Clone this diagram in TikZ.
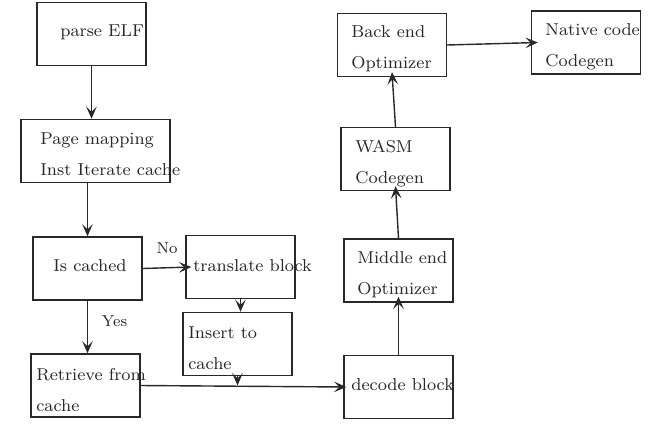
\documentclass[tikz,border=0pt]{standalone}
\usepackage{fontspec}
\setmainfont{lmroman8-regular.otf}
\usetikzlibrary{arrows.meta}
\definecolor{ink}{RGB}{40,40,40}

\begin{document}
\begin{tikzpicture}[
  x=0.02cm,y=-0.02cm,
  >={Stealth[length=7pt,width=6pt,inset=3pt]},
  box/.style={draw=ink,rectangle,minimum width=2.18cm,minimum height=1.26cm,inner sep=0pt,line width=0.8pt},
  widebox/.style={box,minimum width=2.98cm},
  txt/.style={anchor=west,align=left,inner sep=0pt,text=ink,font={\fontsize{9.8}{17.6}\selectfont}},
  flow/.style={->,draw=ink,line width=0.8pt},
  lbl/.style={inner sep=0pt,text=ink,font={\fontsize{9}{11}\selectfont}}
]
\useasboundingbox (0,0) rectangle (651,423);
% ================= left: lookup of the guest code =================
\node[box] (parse) at (91.5,34) {};
\node[widebox] (page) at (95.5,151) {};
\node[box] (cached) at (87.5,268.5) {};
\node[box] (translate) at (240.5,267) {};
\node[box] (insert) at (237.5,344) {};
\node[box] (retrieve) at (85.5,385.5) {};
\node[txt] (tparse) at (60,32) {parse ELF};
\node[txt] (tpage) at (40,154) {Page mapping\\Inst Iterate cache};
\node[txt] (tcached) at (53,266) {Is cached};
\node[txt] (ttranslate) at (193,266) {translate block};
\node[txt] (tinsert) at (188,348) {Insert to\\cache};
\node[txt] (tretrieve) at (36,390) {Retrieve from\\cache};
% ================= right: compile pipeline =================
\node[box] (decode) at (398.5,387) {};
\node[box] (middle) at (398.5,270.5) {};
\node[box] (wasm) at (395.5,159) {};
\node[box] (backend) at (392,45) {};
\node[box] (native) at (586,42.5) {};
\node[txt] (tdecode) at (351,385) {decode block};
\node[txt] (tmiddle) at (357,275) {Middle end\\Optimizer};
\node[txt] (twasm) at (355,163.5) {WASM\\Codegen};
\node[txt] (tbackend) at (351,48.5) {Back end\\Optimizer};
\node[txt] (tnative) at (545,47) {Native code\\Codegen};
\coordinate (join) at (insert.south |- retrieve.east);
% ================= connectors =================
\draw[flow] (parse.south) -- (parse.south |- page.north);
\draw[flow] (cached.north |- page.south) -- (cached.north);
\draw[flow] (cached.east) -- ([xshift=0.12cm]translate.west);
\draw[flow] (cached.south) -- (cached.south |- retrieve.north);
\draw[flow] (translate.south) -- (translate.south |- insert.north);
\draw[flow] (insert.south) -- (join);
\draw[flow] (retrieve.east) -- ([xshift=0.06cm]decode.west);
\draw[flow] (decode.north) -- ([yshift=0.12cm]middle.south);
\draw[flow] (middle.north) -- ([yshift=0.1cm]wasm.south);
\draw[flow] (wasm.north) -- ([yshift=0.1cm]backend.south);
\draw[flow] (backend.east) -- ([xshift=0.14cm]native.west);
\node[lbl] (no) at (167,248) {No};
\node[lbl] (yes) at (114.5,321) {Yes};
\end{tikzpicture}
\end{document}
